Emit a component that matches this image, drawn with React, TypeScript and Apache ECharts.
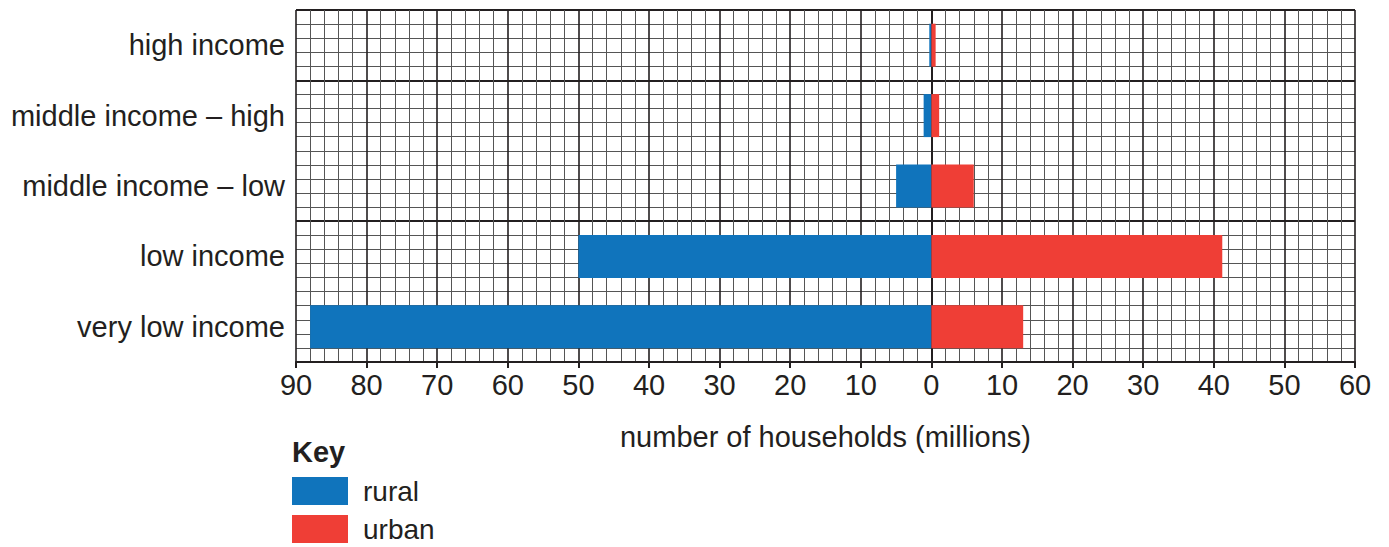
import React, { useEffect, useRef } from "react";
import * as echarts from "echarts";

const categories = [
  "very low income",
  "low income",
  "middle income – low",
  "middle income – high",
  "high income",
];
const rural = [88, 50, 5, 1.1, 0.3];
const urban = [13, 41.2, 6, 1.1, 0.6];
const xTicks = [-90, -80, -70, -60, -50, -40, -30, -20, -10, 0, 10, 20, 30, 40, 50, 60];

const FONT = "Liberation Sans, Arial, Helvetica, sans-serif";
const INK = "#231f20";
const FS = 29;

export default function App() {
  const ref = useRef<HTMLDivElement>(null);
  useEffect(() => {
    document.body.style.margin = "0";
    const chart = echarts.init(ref.current!, undefined, { renderer: "svg" });
    const grid = { left: 296, right: 34, top: 10, bottom: 185 };
    chart.setOption({
      animation: false,
      backgroundColor: "#ffffff",
      textStyle: { fontFamily: FONT },
      title: {
        text: "Key",
        left: 287,
        top: 432,
        textStyle: { fontSize: FS, fontWeight: "bold", color: INK, fontFamily: FONT },
      },
      legend: {
        orient: "vertical",
        left: 292,
        top: 477,
        padding: 0,
        itemWidth: 56,
        itemHeight: 28,
        itemGap: 10,
        icon: "rect",
        textStyle: { fontSize: 28, color: INK, padding: [0, 0, 0, 10], fontFamily: FONT },
        data: ["rural", "urban"],
      },
      grid: [grid],
      xAxis: {
        type: "value",
        min: xTicks[0],
        max: xTicks[xTicks.length - 1],
        interval: 10,
        name: "number of households (millions)",
        nameLocation: "middle",
        nameGap: 60,
        nameTextStyle: { fontSize: FS, color: INK, fontFamily: FONT },
        axisLine: { show: true, onZero: false, lineStyle: { color: INK, width: 2 } },
        axisTick: { show: true, length: 6, lineStyle: { color: INK, width: 2 } },
        axisLabel: {
          fontSize: FS,
          color: INK,
          margin: 8,
          fontFamily: FONT,
          formatter: (v: number) => String(Math.abs(v)),
        },
        splitLine: { show: true, lineStyle: { color: INK, width: 1.6 } },
        minorTick: { show: false, splitNumber: 5 },
        minorSplitLine: { show: true, lineStyle: { color: "#555555", width: 1 } },
      },
      yAxis: [
        {
          type: "category",
          data: categories,
          axisLine: { show: true, lineStyle: { color: INK, width: 2 } },
          axisTick: { show: false },
          axisLabel: { fontSize: FS, color: INK, margin: 11, fontFamily: FONT },
          splitLine: { show: false },
          z: 3,
        },
        {
          type: "value",
          min: 0,
          max: 25,
          interval: 1,
          position: "right",
          axisLine: { show: false },
          axisTick: { show: false },
          axisLabel: { show: false },
          splitLine: { show: true, lineStyle: { color: "#555555", width: 1 } },
        },
        {
          type: "value",
          min: 0,
          max: 25,
          interval: 10,
          position: "right",
          axisLine: { show: false },
          axisTick: { show: false },
          axisLabel: { show: false },
          splitLine: { show: true, lineStyle: { color: INK, width: 1.8 } },
        },
      ],
      series: [
        {
          name: "rural",
          type: "bar",
          yAxisIndex: 0,
          data: rural.map((v) => -v),
          barWidth: 43,
          barGap: "-100%",
          itemStyle: { color: "#1074bc" },
          z: 5,
        },
        {
          name: "urban",
          type: "bar",
          yAxisIndex: 0,
          data: urban,
          barWidth: 43,
          barGap: "-100%",
          itemStyle: { color: "#ef3e36" },
          z: 5,
        },
      ],
    });
    return () => chart.dispose();
  }, []);
  return (
    <div
      ref={ref}
      style={{ position: "absolute", left: 0, top: 0, width: 1389, height: 547 }}
    />
  );
}
